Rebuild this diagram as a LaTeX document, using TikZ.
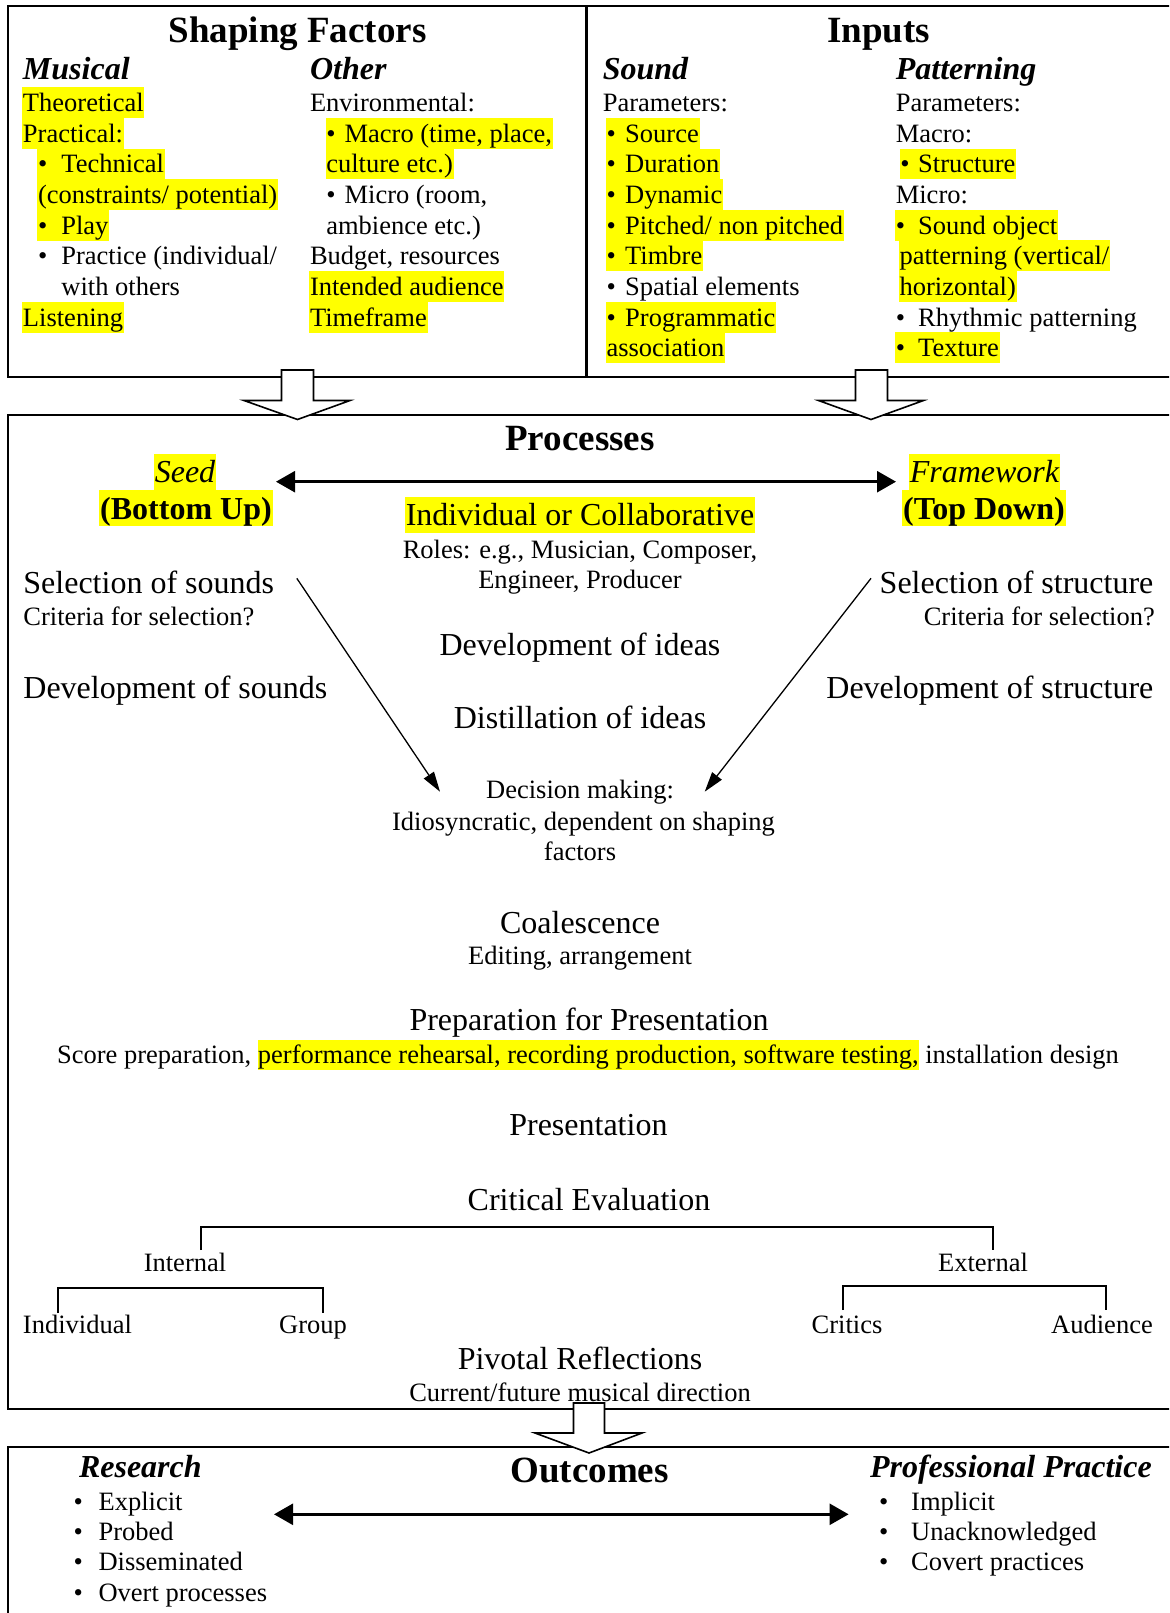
\documentclass[tikz,border=0pt]{standalone}
\usepackage{fontspec}
\setmainfont{Liberation Serif}
\usetikzlibrary{arrows.meta}
\definecolor{hly}{RGB}{255,255,0}
\newcommand\fsBody{\fontsize{26.5pt}{31pt}\selectfont}
\newcommand\fsMid{\fontsize{32pt}{37pt}\selectfont}
\newcommand\fsSub{\fontsize{32pt}{37pt}\selectfont}
\newcommand\fsTitle{\fontsize{37pt}{43pt}\selectfont}
\newcommand\bulbox[1]{\makebox[#1pt][l]{•}}
\newcommand\hlpart[1]{{\setlength{\fboxsep}{0pt}\colorbox{hly}{\rule[-6.5pt]{0pt}{30.9pt}#1}}}
\tikzset{
  body/.style={font=\fsBody, inner xsep=0.8pt, inner ysep=0pt, text height=24.4pt, text depth=6.5pt},
  mid/.style={font=\fsMid, inner xsep=0.8pt, inner ysep=0pt, text height=28.4pt, text depth=7.1pt},
  sub/.style={font=\fsSub, inner xsep=0.8pt, inner ysep=0pt, text height=28.7pt, text depth=7.3pt},
  title/.style={font=\fsTitle\bfseries, inner xsep=0.8pt, inner ysep=0pt, text height=33pt, text depth=8pt},
  hl/.style={fill=hly},
  panel/.style={draw, line width=2.2pt},
  blockarrow/.style={draw, fill=white, line width=1.6pt, line join=miter},
  dbl/.style={line width=2.5pt, {Triangle[length=19pt,width=21pt]}-{Triangle[length=19pt,width=21pt]}},
  thinarr/.style={line width=1.3pt, -{Triangle[length=20pt,width=12pt]}},
  brk/.style={line width=1.8pt},
}
\begin{document}
\begin{tikzpicture}[x=1pt,y=-1pt]
\useasboundingbox (0,0) rectangle (1169,1613);
\clip (0,0) rectangle (1169,1613);
\fill[white] (0,0) rectangle (1169,1613);

% panels
\draw[panel] (8.2,6.2) rectangle (1185,376.6);
\draw[panel] (586.5,6.2) -- (586.5,376.6);
\draw[panel] (8.2,414.7) rectangle (1185,1408.7);
\draw[panel] (8.2,1446.8) rectangle (1185,1630);

% block arrows
\draw[blockarrow] (281.5,370) -- (313.5,370) -- (313.5,400.5) -- (350,400.5) -- (297.5,419.5) -- (244,400.5) -- (281.5,400.5) -- cycle;
\draw[blockarrow] (855.5,370) -- (887.5,370) -- (887.5,400.5) -- (923.5,400.5) -- (871,419.5) -- (818.5,400.5) -- (855.5,400.5) -- cycle;
\draw[blockarrow] (573.5,1403) -- (604.5,1403) -- (604.5,1433) -- (642,1433) -- (589,1453) -- (535,1433) -- (573.5,1433) -- cycle;

% ---------- Shaping factors ----------
\node[title] (sf) at (297.5,30) {Shaping Factors};
\node[sub,anchor=west] (mus) at (22,68.5) {\bfseries\itshape Musical};
\node[body,hl,anchor=west] (theo) at (22,102.7) {Theoretical};
\node[body,hl,anchor=west] (prac) at (22,133.35) {Practical:};
\node[body,hl,anchor=west] (tech) at (37,164) {\bulbox{23.4}Technical};
\node[body,hl,anchor=west] (cons) at (37,194.65) {(constraints/ potential)};
\node[body,hl,anchor=west] (play) at (37,225.3) {\bulbox{23.4}Play};
\node[body,anchor=west] (pract) at (37,255.95) {\bulbox{23.4}Practice (individual/};
\node[body,anchor=west] (with) at (60.4,286.6) {with others};
\node[body,hl,anchor=west] (listen) at (22,317.25) {Listening};

\node[sub,anchor=west] (oth) at (309,68.5) {\bfseries\itshape Other};
\node[body,anchor=west] (env) at (309,102.7) {Environmental:};
\node[body,hl,anchor=west] (macro) at (325.3,133.35) {\bulbox{18.3}Macro (time, place,};
\node[body,hl,anchor=west] (cult) at (325.3,164) {culture etc.)};
\node[body,anchor=west] (micro) at (325.3,194.65) {\bulbox{18.3}Micro (room,};
\node[body,anchor=west] (amb) at (325.3,225.3) {ambience etc.)};
\node[body,anchor=west] (budg) at (309,255.95) {Budget, resources};
\node[body,hl,anchor=west] (aud) at (309,286.6) {Intended audience};
\node[body,hl,anchor=west] (tframe) at (309,317.25) {Timeframe};

% ---------- Inputs ----------
\node[title] (inp) at (878.6,30) {Inputs};
\node[sub,anchor=west] (snd) at (601.8,68.5) {\bfseries\itshape Sound};
\node[body,anchor=west] (par1) at (601.8,102.7) {Parameters:};
\node[body,hl,anchor=west] (src) at (605.5,133.35) {\bulbox{18.7}Source};
\node[body,hl,anchor=west] (dur) at (605.5,164) {\bulbox{18.7}Duration};
\node[body,hl,anchor=west] (dyn) at (605.5,194.65) {\bulbox{18.7}Dynamic};
\node[body,hl,anchor=west] (pit) at (605.5,225.3) {\bulbox{18.7}Pitched/ non pitched};
\node[body,hl,anchor=west] (timb) at (605.5,255.95) {\bulbox{18.7}Timbre};
\node[body,anchor=west] (spa) at (605.5,286.6) {\bulbox{18.7}Spatial elements};
\node[body,hl,anchor=west] (prog) at (605.5,317.25) {\bulbox{18.7}Programmatic};
\node[body,hl,anchor=west] (assoc) at (605.5,347.9) {association};

\node[sub,anchor=west] (pat) at (894.8,68.5) {\bfseries\itshape Patterning};
\node[body,anchor=west] (par2) at (894.8,102.7) {Parameters:};
\node[body,anchor=west] (mac2) at (894.8,133.35) {Macro:};
\node[body,hl,anchor=west] (struc) at (899.3,164) {\bulbox{17.9}Structure};
\node[body,anchor=west] (mic2) at (894.8,194.65) {Micro:};
\node[body,hl,anchor=west] (sobj) at (894.8,225.3) {\bulbox{22.4}Sound object};
\node[body,hl,anchor=west] (patv) at (898.6,255.95) {patterning (vertical/};
\node[body,hl,anchor=west] (hor) at (898.6,286.6) {horizontal)};
\node[body,anchor=west] (rhy) at (894.8,317.25) {\bulbox{22.4}Rhythmic patterning};
\node[body,hl,anchor=west] (tex) at (894.8,347.9) {\bulbox{22.4}Texture};

% ---------- Processes ----------
\node[title] (proc) at (580,438.3) {Processes};
\node[sub,hl] (seed) at (185,471.7) {\itshape Seed};
\node[sub,hl] (bu) at (186,508.3) {\bfseries (Bottom Up)};
\node[sub,hl] (fw) at (984.4,471.7) {\itshape Framework};
\node[sub,hl] (td) at (984,508.3) {\bfseries (Top Down)};
\coordinate (da1) at (276,481.7);
\coordinate (da2) at (896,481.7);
\draw[dbl] (da1) -- (da2);
\node[sub,hl] (ioc) at (580,515) {Individual or Collaborative};
\node[body] (roles) at (580,550) {Roles: e.g., Musician, Composer,};
\node[body] (eng) at (580,580) {Engineer, Producer};
\node[mid,anchor=west] (sels) at (22.4,583.3) {Selection of sounds};
\node[body,anchor=west] (crit1) at (22.4,616.7) {Criteria for selection?};
\node[mid,anchor=west] (devs) at (22.4,688.3) {Development of sounds};
\node[mid,anchor=east] (selst) at (1154.4,583.3) {Selection of structure};
\node[body,anchor=east] (crit2) at (1155.8,616.7) {Criteria for selection?};
\node[mid,anchor=east] (devst) at (1154.4,688.3) {Development of structure};
\node[mid] (devi) at (580,645) {Development of ideas};
\node[mid] (dist) at (580,718.3) {Distillation of ideas};
\node[body] (dec) at (580,790) {Decision making:};
\node[body] (idio) at (583.5,821.7) {Idiosyncratic, dependent on shaping};
\node[body] (fac) at (580,851.7) {factors};
\coordinate (la1) at (296.8,578.3);
\coordinate (la2) at (440,791.7);
\coordinate (ra1) at (871,578.3);
\coordinate (ra2) at (704.7,791.7);
\draw[thinarr] (la1) -- (la2);
\draw[thinarr] (ra1) -- (ra2);

\node[mid] (coal) at (580,922.7) {Coalescence};
\node[body] (edit) at (580,956) {Editing, arrangement};
\node[mid] (prep) at (589,1020) {Preparation for Presentation};
\node[body] (score) at (588,1055) {Score preparation, \hlpart{performance rehearsal, recording production, software testing,} installation design};
\node[mid] (pres) at (588.4,1125) {Presentation};
\node[mid] (crev) at (589,1200) {Critical Evaluation};

\coordinate (b1) at (201,1250);
\coordinate (b2) at (201,1226.7);
\coordinate (b3) at (993,1226.7);
\coordinate (b4) at (993,1250);
\draw[brk] (b1) -- (b2) -- (b3) -- (b4);
\node[body] (int) at (185,1263) {Internal};
\node[body] (ext) at (983,1263) {External};
\coordinate (c1) at (58,1313);
\coordinate (c2) at (58,1288);
\coordinate (c3) at (323,1288);
\coordinate (c4) at (323,1313);
\draw[brk] (c1) -- (c2) -- (c3) -- (c4);
\coordinate (d1) at (843,1310);
\coordinate (d2) at (843,1285.7);
\coordinate (d3) at (1106,1285.7);
\coordinate (d4) at (1106,1310);
\draw[brk] (d1) -- (d2) -- (d3) -- (d4);
\node[body,anchor=west] (indiv) at (22,1325) {Individual};
\node[body] (grp) at (313,1325) {Group};
\node[body] (crc) at (847,1325) {Critics};
\node[body] (audn) at (1102,1325) {Audience};
\node[mid] (piv) at (580,1359) {Pivotal Reflections};
\node[body] (cur) at (580,1393) {Current/future musical direction};

% ---------- Outcomes ----------
\node[title] (outc) at (589.6,1470) {Outcomes};
\node[sub,anchor=west] (res) at (78,1467) {\bfseries\itshape Research};
\node[sub,anchor=west] (pp) at (869,1467) {\bfseries\itshape Professional Practice};
\node[body,anchor=west] (r1) at (72.5,1501.7) {\bulbox{25.1}Explicit};
\node[body,anchor=west] (r2) at (72.5,1531.5) {\bulbox{25.1}Probed};
\node[body,anchor=west] (r3) at (72.5,1562) {\bulbox{25.1}Disseminated};
\node[body,anchor=west] (r4) at (72.5,1592.5) {\bulbox{25.1}Overt processes};
\node[body,anchor=west] (p1) at (878,1501.7) {\bulbox{32.2}Implicit};
\node[body,anchor=west] (p2) at (878,1531.5) {\bulbox{32.2}Unacknowledged};
\node[body,anchor=west] (p3) at (878,1562) {\bulbox{32.2}Covert practices};
\coordinate (oa1) at (274,1514.3);
\coordinate (oa2) at (848.6,1514.3);
\draw[dbl] (oa1) -- (oa2);
\end{tikzpicture}
\end{document}
